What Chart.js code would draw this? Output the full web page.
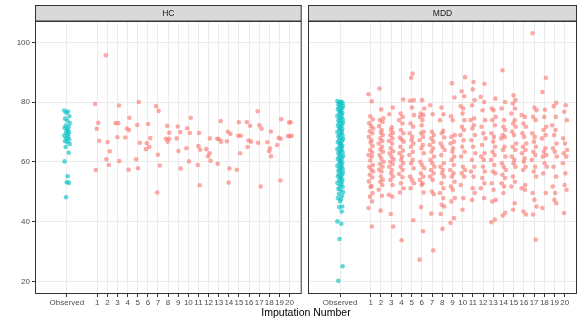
<!DOCTYPE html>
<html>
<head>
<meta charset="utf-8">
<script src="https://cdn.jsdelivr.net/npm/chart.js@4.4.1/dist/chart.umd.min.js"></script>
<style>
  html, body { margin: 0; padding: 0; background: #fff; }
  #wrap { position: relative; width: 581px; height: 323px; overflow: hidden; font-family: "Liberation Sans", Arial, sans-serif; }
  #c-hc { position: absolute; left: 0; top: 0; }
  #c-mdd { position: absolute; left: 305px; top: 0; }
  #xtitle { position: absolute; left: 0; width: 612px; top: 306px; text-align: center; font-size: 10.5px; color: #000; }
</style>
</head>
<body>
<div id="wrap">
  <canvas id="c-hc" width="304" height="323"></canvas>
  <canvas id="c-mdd" width="276" height="323"></canvas>
  <div id="xtitle">Imputation Number</div>
</div>
<script>
/* ---- data ---- */
const panels = ['HC', 'MDD'];
const imputations = ['1','2','3','4','5','6','7','8','9','10','11','12','13','14','15','16','17','18','19','20'];
const yTicks = [20, 40, 60, 80, 100];

const hcObserved = [77.2, 76.9, 76.5, 75.3, 74.5, 73.9, 73.0, 72.2, 71.8, 71.4, 70.9, 70.5, 70.0, 69.6, 69.2,
    68.8, 68.3, 67.9, 67.5, 67.0, 66.6, 66.0, 65.0, 63.1, 60.2, 55.2, 53.2, 53.0, 48.2];

// one row per imputation 1..20
const hcImputed = [
    [79.4, 73.1, 71.1, 67.1, 57.3],
    [95.7, 66.7, 63.6, 60.9, 59.0],
    [78.9, 73.0, 73.0, 68.3, 60.3],
    [74.8, 71.2, 70.7, 68.2, 57.4],
    [80.1, 72.4, 66.4, 60.9, 57.9],
    [72.7, 68.0, 66.3, 65.0, 64.3],
    [78.7, 77.1, 62.4, 58.8, 49.8],
    [72.1, 69.8, 67.8, 67.8, 66.8],
    [71.9, 70.0, 67.9, 63.7, 57.8],
    [74.8, 71.3, 69.7, 64.6, 60.2],
    [69.7, 65.3, 64.1, 59.0, 52.2],
    [67.9, 64.3, 62.9, 61.9, 60.4],
    [73.7, 67.8, 67.6, 66.8, 59.4],
    [70.1, 69.4, 66.9, 57.8, 53.1],
    [73.3, 68.8, 68.8, 62.9, 57.4],
    [73.4, 72.1, 67.2, 66.8, 65.0],
    [77.0, 72.3, 71.1, 66.4, 51.8],
    [70.2, 66.6, 64.6, 63.6, 61.9],
    [74.3, 68.1, 67.8, 65.7, 53.8],
    [73.3, 73.2, 68.8, 68.7, 68.6]
];

const mddObserved = [80.4, 80.2, 80.0, 79.7, 79.3, 79.1, 78.6, 78.3, 78.0, 77.6, 77.2, 77.0, 76.5, 76.2, 75.8,
    75.5, 75.0, 74.8, 74.3, 74.0, 73.6, 73.2, 73.0, 72.5, 72.1, 71.9, 71.4, 71.0, 70.8, 70.2, 70.0, 69.6, 69.1,
    68.8, 68.5, 68.0, 67.7, 67.2, 67.0, 66.6, 66.1, 65.9, 65.4, 65.0, 64.8, 64.3, 64.0, 63.5, 63.2, 62.9, 62.4,
    62.0, 61.7, 61.3, 61.0, 60.5, 60.2, 59.8, 59.5, 59.0, 58.7, 58.3, 58.0, 57.6, 57.1, 56.9, 56.4, 56.0, 55.7,
    55.2, 55.0, 54.6, 54.1, 53.8, 53.3, 53.0, 52.5, 52.0, 51.6, 51.0, 50.5, 49.9, 49.3, 48.6, 47.9, 47.5, 46.8,
    45.1, 44.9, 43.4, 40.1, 39.3, 34.2, 25.1, 20.2];

const mddImputed = [
    [82.7, 80.3, 75.3, 74.2, 73.0, 72.0, 71.2, 70.3, 69.6, 68.4, 67.3, 66.5, 65.3, 64.0, 63.2, 62.3, 61.8, 60.5, 59.0, 58.4, 57.5, 56.8, 55.7, 54.8, 53.5, 52.0, 51.6, 49.6, 48.4, 46.8, 44.6, 38.4],
    [84.6, 77.6, 74.6, 74.0, 73.4, 72.0, 70.7, 69.8, 69.0, 67.9, 67.0, 66.2, 65.1, 64.2, 63.4, 62.3, 61.2, 60.1, 59.3, 58.4, 57.5, 56.8, 55.1, 54.0, 53.4, 52.3, 50.7, 48.7, 43.7],
    [78.2, 76.0, 71.6, 70.7, 69.8, 69.0, 67.9, 67.0, 66.2, 64.6, 63.6, 62.9, 61.8, 60.9, 60.1, 59.3, 58.4, 57.3, 56.2, 55.1, 54.0, 52.3, 49.0, 48.4, 42.6, 38.4],
    [80.9, 76.2, 75.1, 74.0, 72.9, 70.7, 69.6, 68.2, 67.5, 66.8, 65.1, 63.8, 62.9, 61.8, 60.7, 59.6, 58.4, 57.3, 56.0, 54.9, 52.9, 51.2, 49.8, 33.8],
    [89.6, 88.2, 80.7, 80.5, 78.2, 75.7, 72.9, 71.8, 69.6, 68.4, 67.3, 66.2, 65.1, 63.4, 62.3, 60.7, 59.6, 57.9, 55.1, 54.0, 52.9, 51.2, 40.5],
    [80.7, 77.9, 76.2, 75.7, 75.1, 74.0, 72.3, 70.1, 69.6, 68.4, 67.3, 65.7, 64.6, 62.9, 60.1, 59.0, 57.9, 56.2, 55.1, 54.0, 52.9, 52.3, 49.8, 44.9, 36.8, 27.3],
    [79.0, 76.0, 70.1, 69.0, 67.9, 66.8, 65.7, 64.6, 63.4, 61.8, 60.7, 59.6, 58.4, 57.3, 56.2, 55.1, 54.0, 50.1, 49.2, 42.7, 30.4],
    [78.2, 76.0, 74.0, 70.4, 69.6, 68.2, 66.2, 65.1, 64.0, 62.3, 59.6, 58.4, 57.3, 56.2, 55.1, 52.9, 51.2, 49.6, 47.9, 45.7, 45.1, 42.6, 37.6],
    [86.4, 81.6, 75.3, 74.0, 69.0, 68.4, 66.8, 66.2, 64.6, 63.4, 61.8, 60.7, 59.0, 57.3, 56.2, 55.1, 53.4, 51.8, 50.7, 47.9, 46.8, 41.2, 39.6],
    [88.4, 83.7, 82.0, 78.7, 77.9, 76.2, 74.0, 71.8, 70.7, 69.0, 67.3, 65.1, 63.4, 61.8, 58.4, 57.3, 56.2, 55.1, 52.3, 47.9, 44.0],
    [86.8, 84.3, 80.7, 79.0, 74.6, 74.0, 72.3, 71.2, 69.0, 67.3, 65.1, 62.9, 60.7, 58.4, 56.8, 55.1, 51.2, 49.6, 47.3],
    [86.2, 81.8, 80.1, 77.3, 74.0, 71.8, 69.6, 67.9, 65.7, 62.9, 61.8, 60.7, 58.4, 56.8, 54.6, 52.9, 51.2, 47.9],
    [81.2, 77.9, 77.3, 75.1, 74.0, 72.3, 69.6, 68.4, 66.8, 65.1, 63.4, 62.3, 60.7, 59.0, 56.8, 56.2, 52.9, 50.7, 47.3, 46.8, 40.7, 39.8],
    [90.7, 80.1, 77.9, 74.0, 71.8, 70.7, 69.0, 68.4, 67.9, 65.1, 64.0, 61.8, 59.6, 58.4, 57.3, 55.7, 54.6, 52.9, 51.8, 49.6, 43.0, 42.1],
    [82.3, 80.7, 79.6, 77.9, 76.2, 74.0, 72.9, 71.8, 70.1, 69.0, 66.2, 65.1, 64.0, 61.8, 60.7, 59.6, 58.4, 55.1, 53.4, 51.8, 46.2, 44.0],
    [75.7, 75.1, 72.9, 71.8, 69.6, 68.4, 66.2, 65.1, 64.0, 62.9, 61.2, 60.1, 58.4, 57.3, 52.3, 51.2, 50.7, 43.4, 42.4],
    [103.1, 78.2, 77.3, 75.1, 74.0, 69.6, 68.4, 66.8, 65.1, 63.4, 62.3, 60.7, 58.4, 56.8, 55.1, 49.6, 47.3, 45.1, 42.4, 34.0],
    [88.2, 83.4, 77.5, 75.1, 71.8, 70.7, 69.0, 67.9, 64.6, 63.4, 62.3, 61.8, 59.6, 58.4, 56.2, 49.6, 44.6],
    [79.8, 78.7, 75.1, 72.3, 70.7, 69.0, 66.2, 64.6, 63.4, 61.8, 58.4, 55.1, 51.8, 49.6, 47.3, 46.2],
    [79.0, 76.8, 74.0, 67.9, 66.2, 64.0, 62.9, 61.8, 59.6, 56.2, 52.3, 50.7, 42.9]
];

/* ---- layout / style ---- */
const OBS_X = -2;                 // where "Observed" sits on the x scale
const X_MIN = -5.15, X_MAX = 21.2;
const Y_MIN = 15.8, Y_MAX = 107.2;
// fixed horizontal jitter pattern (fraction of the jitter width)
const JIT = [-0.9, 0.4, -0.2, 0.8, -0.6, 0.1, 0.95, -0.4, 0.6, -0.75, 0.25, -0.05, 0.7, -0.3, 0.5];
const TEAL = 'rgba(0,191,196,0.62)';
const SALMON = 'rgba(248,118,109,0.62)';
const FONT = "'Liberation Sans', Arial, sans-serif";

function buildPoints(observed, imputed) {
    const obs = observed.map((v, i) => ({ x: OBS_X + JIT[i % JIT.length] * 0.3, y: v }));
    const imp = [];
    imputed.forEach((col, k) => {
        col.forEach((v, i) => imp.push({ x: k + 1 + JIT[(i + k * 4) % JIT.length] * 0.25, y: v }));
    });
    return { obs, imp };
}

const facetFrame = {
    id: 'facetFrame',
    afterDraw(chart, args, opts) {
        const { ctx, chartArea: a } = chart;
        ctx.save();
        // strip
        ctx.fillStyle = '#d9d9d9';
        ctx.fillRect(a.left, 5, a.right - a.left, a.top - 5);
        ctx.strokeStyle = '#333333';
        ctx.lineWidth = 1;
        ctx.strokeRect(a.left + 0.5, 5.5, a.right - a.left - 1, a.top - 5.5);
        // panel border
        ctx.strokeRect(a.left + 0.5, a.top + 0.5, a.right - a.left - 1, a.bottom - a.top - 1);
        ctx.fillStyle = '#1a1a1a';
        ctx.font = '8.5px ' + FONT;
        ctx.textAlign = 'center';
        ctx.textBaseline = 'middle';
        ctx.fillText(opts.label, (a.left + a.right) / 2, (5 + a.top) / 2 + 0.5);
        ctx.restore();
    }
};

function makePanel(canvasId, label, observed, imputed, showY, padding) {
    const { obs, imp } = buildPoints(observed, imputed);
    const ds = (data, color) => ({
        data, backgroundColor: color, borderWidth: 0, pointRadius: 2.3, pointHoverRadius: 2.3
    });
    return new Chart(document.getElementById(canvasId), {
        type: 'scatter',
        data: { datasets: [ds(imp, SALMON), ds(obs, TEAL)] },
        plugins: [facetFrame],
        options: {
            responsive: false, animation: false,
            layout: { padding },
            plugins: { legend: { display: false }, tooltip: { enabled: false }, facetFrame: { label } },
            scales: {
                x: {
                    type: 'linear', min: X_MIN, max: X_MAX,
                    afterBuildTicks: s => { s.ticks = [OBS_X, ...imputations.map((_, i) => i + 1)].map(v => ({ value: v })); },
                    afterFit: s => { s.height = 29; },
                    grid: { color: '#ebebeb', lineWidth: 1, tickColor: '#333333', tickLength: 3 },
                    border: { display: false },
                    ticks: {
                        autoSkip: false, maxRotation: 0, padding: 1, color: '#4d4d4d',
                        font: { family: FONT, size: 8 },
                        callback: v => v === OBS_X ? 'Observed' : imputations[v - 1]
                    }
                },
                y: {
                    min: Y_MIN, max: Y_MAX,
                    afterBuildTicks: s => { s.ticks = yTicks.map(v => ({ value: v })); },
                    afterFit: s => { s.width = showY ? 35 : 0; },
                    grid: { color: '#ebebeb', lineWidth: 1, tickColor: '#333333', tickLength: showY ? 3 : 0 },
                    border: { display: false },
                    ticks: { display: showY, padding: 2, color: '#4d4d4d', font: { family: FONT, size: 8 } }
                }
            }
        }
    });
}

makePanel('c-hc', panels[0], hcObserved, hcImputed, true, { top: 21, right: 2, left: 0, bottom: 0 });
makePanel('c-mdd', panels[1], mddObserved, mddImputed, false, { top: 21, right: 4, left: 3, bottom: 0 });
</script>
</body>
</html>
